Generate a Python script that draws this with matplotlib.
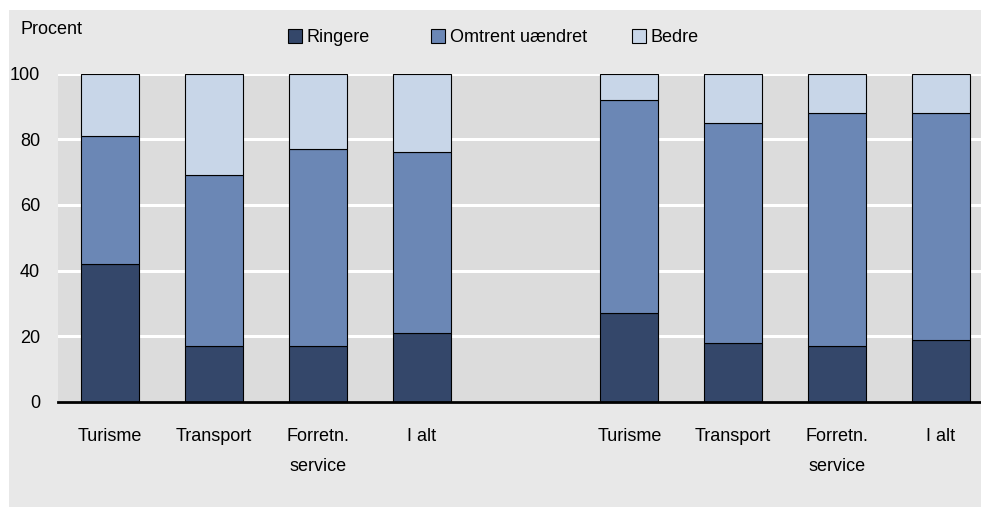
import matplotlib.pyplot as plt
from matplotlib.patches import Rectangle

plt.rcParams['font.family'] = ['Liberation Sans', 'DejaVu Sans']

categories = ['Turisme', 'Transport', 'Forretn.\nservice', 'I alt',
              'Turisme', 'Transport', 'Forretn.\nservice', 'I alt']
positions = [0, 1, 2, 3, 5, 6, 7, 8]
ringere = [42, 17, 17, 21, 27, 18, 17, 19]
uaendret = [39, 52, 60, 55, 65, 67, 71, 69]
bedre = [19, 31, 23, 24, 8, 15, 12, 12]
series_names = ['Ringere', 'Omtrent uændret', 'Bedre']

c_ringere = '#34476a'
c_uaendret = '#6b87b5'
c_bedre = '#c8d6e8'
colors = [c_ringere, c_uaendret, c_bedre]

fig = plt.figure(figsize=(9.81, 5.08), dpi=100)
fig.patch.set_facecolor('white')
fig.patches.append(Rectangle((9 / 981, 0.002), 1 - 9 / 981, 0.978,
                             transform=fig.transFigure, facecolor='#e8e8e8',
                             edgecolor='none', zorder=-5))

ax = fig.add_axes([58 / 981, 106 / 508, 1 - 58 / 981, 328.5 / 508])
ax.set_facecolor('#dcdcdc')

bot2 = [a + b for a, b in zip(ringere, uaendret)]
w = 0.56
ax.bar(positions, ringere, width=w, color=c_ringere, edgecolor='black', linewidth=0.8, zorder=3)
ax.bar(positions, uaendret, bottom=ringere, width=w, color=c_uaendret, edgecolor='black', linewidth=0.8, zorder=3)
ax.bar(positions, bedre, bottom=bot2, width=w, color=c_bedre, edgecolor='black', linewidth=0.8, zorder=3)

ax.set_ylim(0, 100)
ax.set_xlim(-0.5, 8.385)
ax.set_yticks([0, 20, 40, 60, 80, 100])
ax.set_xticks(positions)
ax.set_xticklabels(categories, fontsize=13, linespacing=1.95)
ax.tick_params(axis='both', length=0, labelsize=13)
ax.tick_params(axis='x', pad=19)
ax.tick_params(axis='y', pad=13)
ax.yaxis.grid(True, color='white', linewidth=2.2, zorder=1)
ax.set_axisbelow(True)
for s in ['top', 'right', 'left']:
    ax.spines[s].set_visible(False)
ax.spines['bottom'].set_linewidth(2)
ax.spines['bottom'].set_zorder(4)

fig.text(20 / 981, 1 - 30 / 508, 'Procent', fontsize=13, va='center', ha='left')

# legend drawn by hand so the spacing follows the original
leg_x = [288, 431, 632]
for x0, name, col in zip(leg_x, series_names, colors):
    fig.patches.append(Rectangle((x0 / 981, 1 - 43 / 508), 14 / 981, 14 / 508,
                                 transform=fig.transFigure, facecolor=col,
                                 edgecolor='black', linewidth=0.8))
    fig.text((x0 + 19) / 981, 1 - 37.5 / 508, name, fontsize=13, va='center', ha='left')

fig.savefig('out.png', dpi=100)
